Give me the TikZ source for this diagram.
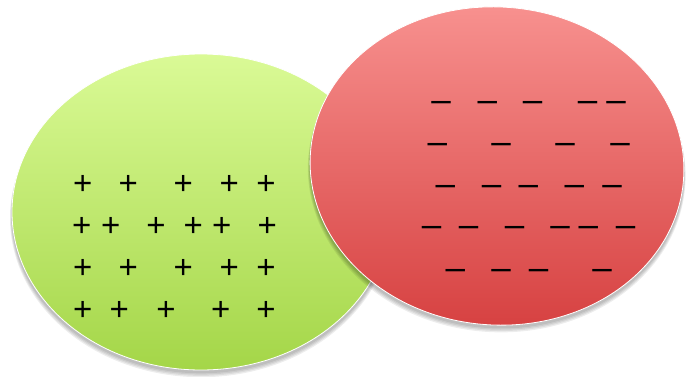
\documentclass[tikz,border=0pt]{standalone}
\usepackage{fontspec}
\setmainfont{Liberation Sans}
\begin{document}
\begin{tikzpicture}[x=1pt,y=-1pt,
  sgn/.style={inner sep=0pt,anchor=base,font=\fontsize{33}{33}\selectfont},
  pl/.style={sgn,yshift=-11.2pt},
  mi/.style={sgn,font=\fontsize{35}{35}\selectfont,yshift=-8.9pt},
  shad/.style={fill=black,opacity=0.07}]
\useasboundingbox (0,0) rectangle (686,377);
% green ellipse
\foreach \d in {1,2,3,4}{\fill[shad] (201,214+\d) ellipse [x radius=189+0.5*\d, y radius=158+0.3*\d];}
\shade[top color={rgb,255:red,218;green,250;blue,150}, bottom color={rgb,255:red,164;green,214;blue,72}, draw=white, line width=0.8pt]
  (201,212) ellipse [x radius=189, y radius=158];
% red ellipse
\foreach \d in {1,2,3,4}{\fill[shad] (497,168+\d) [rotate around={-4:(497,168)}] ellipse [x radius=187+0.5*\d, y radius=159+0.3*\d];}
\begin{scope}[rotate around={-4:(497,166)}]
\shade[top color={rgb,255:red,248;green,146;blue,144}, bottom color={rgb,255:red,214;green,64;blue,64}, draw=white, line width=0.8pt]
  (497,166) ellipse [x radius=187, y radius=159];
\end{scope}
% plus signs
\node[pl] (p11) at (82.7,183.3) {+};
\node[pl] (p12) at (128.3,183.3) {+};
\node[pl] (p13) at (183.3,183.3) {+};
\node[pl] (p14) at (229.3,183.3) {+};
\node[pl] (p15) at (266,183.3) {+};
\node[pl] (p21) at (81.7,225) {+};
\node[pl] (p22) at (110.7,225) {+};
\node[pl] (p23) at (156,225) {+};
\node[pl] (p24) at (193.3,225) {+};
\node[pl] (p25) at (221.7,225) {+};
\node[pl] (p26) at (267.3,225) {+};
\node[pl] (p31) at (82.7,267.3) {+};
\node[pl] (p32) at (128.3,267.3) {+};
\node[pl] (p33) at (183.3,267.3) {+};
\node[pl] (p34) at (229.3,267.3) {+};
\node[pl] (p35) at (266,267.3) {+};
\node[pl] (p41) at (82.7,309) {+};
\node[pl] (p42) at (119.3,309) {+};
\node[pl] (p43) at (166,309) {+};
\node[pl] (p44) at (220.7,309) {+};
\node[pl] (p45) at (266,309) {+};
% minus signs
\node[mi] (m11) at (441,102.3) {–};
\node[mi] (m12) at (487.3,102.3) {–};
\node[mi] (m13) at (532.7,102.3) {–};
\node[mi] (m14) at (587.7,102.3) {–};
\node[mi] (m15) at (616,102.3) {–};
\node[mi] (m21) at (437.3,144.3) {–};
\node[mi] (m22) at (501,144.3) {–};
\node[mi] (m23) at (565,144.3) {–};
\node[mi] (m24) at (620,144.3) {–};
\node[mi] (m31) at (445.3,186.7) {–};
\node[mi] (m32) at (491.7,186.7) {–};
\node[mi] (m33) at (528.3,186.7) {–};
\node[mi] (m34) at (574.3,186.7) {–};
\node[mi] (m35) at (612,186.7) {–};
\node[mi] (m41) at (431.7,228) {–};
\node[mi] (m42) at (468.7,228) {–};
\node[mi] (m43) at (514.7,228) {–};
\node[mi] (m44) at (560,228) {–};
\node[mi] (m45) at (588.3,228) {–};
\node[mi] (m46) at (625.7,228) {–};
\node[mi] (m51) at (455.3,270.7) {–};
\node[mi] (m52) at (501,270.7) {–};
\node[mi] (m53) at (538.7,270.7) {–};
\node[mi] (m54) at (602,270.7) {–};
\end{tikzpicture}
\end{document}
